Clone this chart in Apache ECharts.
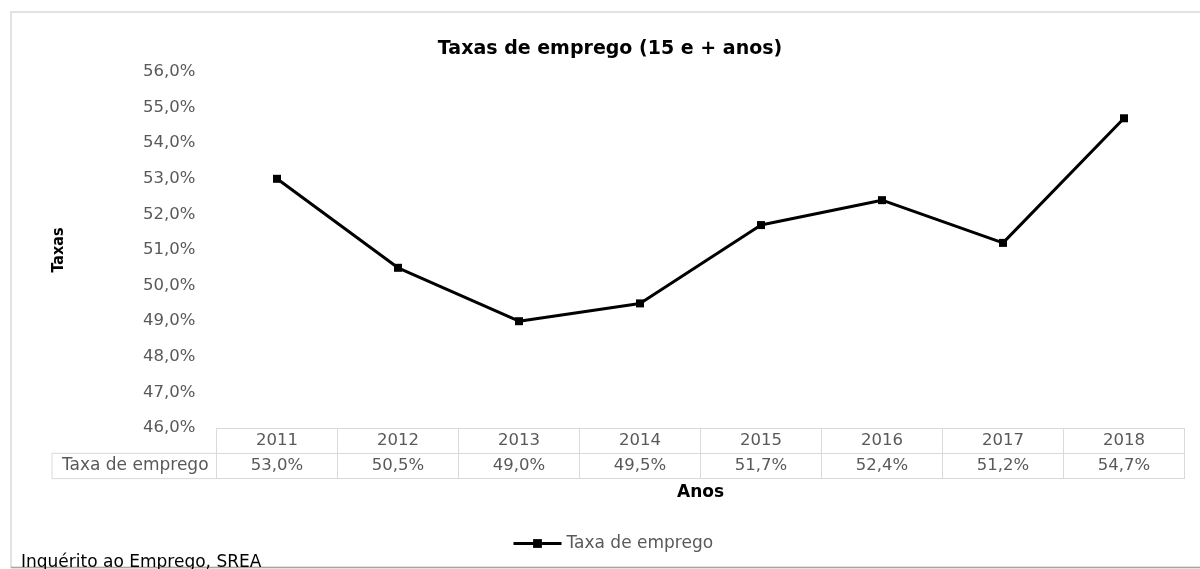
<!DOCTYPE html>
<html>
<head>
<meta charset="utf-8">
<title>Taxas de emprego (15 e + anos)</title>
<script src="https://cdn.jsdelivr.net/npm/echarts@6/dist/echarts.min.js"></script>
<style>
  html, body { margin: 0; padding: 0; background: #ffffff; }
  #chart { width: 1200px; height: 569px; }
</style>
</head>
<body>
<div id="chart"></div>
<script>
// Employment rate, population aged 15 and over (%)
const years = ['2011', '2012', '2013', '2014', '2015', '2016', '2017', '2018'];
const rates = [53.0, 50.5, 49.0, 49.5, 51.7, 52.4, 51.2, 54.7];
const seriesName = 'Taxa de emprego';
const yMin = 46, yMax = 56, yStep = 1;

const FONT = '"DejaVu Sans", Verdana, sans-serif';
const GREY_TEXT = '#595959';
const TABLE_LINE = '#d9d9d9';

const fmtPct = v => Number(v).toFixed(1).replace('.', ',') + '%';

const gridLeft = 216.5, gridRight = 15.5, gridTop = 72, gridBottom = 141;
const rowH = 25.3;

const chart = echarts.init(document.getElementById('chart'), null, { renderer: 'canvas' });

const option = {
  backgroundColor: '#ffffff',
  animation: false,
  title: {
    text: 'Taxas de emprego (15 e + anos)',
    left: 610,
    textAlign: 'center',
    top: 40,
    padding: 0,
    textStyle: { fontFamily: FONT, fontSize: 19, fontWeight: 'bold', color: '#000000' }
  },
  legend: {
    data: [seriesName],
    left: 512,
    top: 535,
    padding: 0,
    itemWidth: 48,
    itemHeight: 11,
    itemGap: 5,
    lineStyle: { width: 3, color: '#000000' },
    textStyle: { fontFamily: FONT, fontSize: 17, color: GREY_TEXT }
  },
  grid: { left: gridLeft, right: gridRight, top: gridTop, bottom: gridBottom, containLabel: false },
  xAxis: [
    {
      // year row of the data table
      type: 'category',
      data: years,
      position: 'bottom',
      boundaryGap: true,
      axisLine: { show: true, lineStyle: { color: TABLE_LINE, width: 1 } },
      axisTick: { show: true, interval: 0, length: rowH * 2, lineStyle: { color: TABLE_LINE, width: 1 } },
      axisLabel: { interval: 0, margin: 12.5, verticalAlign: 'middle', color: GREY_TEXT, fontFamily: FONT, fontSize: 16.5 },
      splitLine: { show: false },
      name: 'Anos',
      nameLocation: 'middle',
      nameGap: 56,
      nameTextStyle: { fontFamily: FONT, fontSize: 17, fontWeight: 'bold', color: '#000000' }
    },
    {
      // value row of the data table
      type: 'category',
      data: years,
      position: 'bottom',
      offset: rowH,
      boundaryGap: true,
      axisLine: { show: true, lineStyle: { color: TABLE_LINE, width: 1 } },
      axisTick: { show: false },
      axisLabel: {
        interval: 0, margin: 12.5, verticalAlign: 'middle', color: GREY_TEXT, fontFamily: FONT, fontSize: 16.5,
        formatter: (v, i) => fmtPct(rates[i])
      }
    },
    {
      // closing line under the table
      type: 'category',
      data: years,
      position: 'bottom',
      offset: rowH * 2,
      axisLine: { show: true, lineStyle: { color: TABLE_LINE, width: 1 } },
      axisTick: { show: false },
      axisLabel: { show: false }
    }
  ],
  yAxis: {
    type: 'value',
    min: yMin,
    max: yMax,
    interval: yStep,
    axisLine: { show: false },
    axisTick: { show: false },
    splitLine: { show: false },
    axisLabel: { margin: 21, color: GREY_TEXT, fontFamily: FONT, fontSize: 16.5, formatter: v => fmtPct(v) },
    name: 'Taxas',
    nameLocation: 'middle',
    nameRotate: 90,
    nameGap: 150,
    nameTextStyle: { fontFamily: '"DejaVu Sans Condensed", "DejaVu Sans", sans-serif', fontSize: 16, fontWeight: 'bold', color: '#000000' }
  },
  series: [
    {
      name: seriesName,
      type: 'line',
      xAxisIndex: 0,
      data: rates,
      symbol: 'rect',
      symbolSize: 8,
      showAllSymbol: true,
      lineStyle: { color: '#000000', width: 3 },
      itemStyle: { color: '#000000' },
      emphasis: { disabled: true }
    }
  ]
};

chart.setOption(option);

// Row header cell of the data table, placed against the grid's left edge
const rowTop = chart.getHeight() - gridBottom + rowH;
const headerW = 164.5;
chart.setOption({
  graphic: [
    {
      // chart frame
      type: 'rect',
      silent: true,
      shape: { x: 11, y: 12, width: 1200, height: 555.5 },
      style: { fill: 'none', stroke: '#d9d9d9', lineWidth: 1.5 }
    },
    {
      type: 'line',
      silent: true,
      shape: { x1: 11, y1: 567.5, x2: 1200, y2: 567.5 },
      style: { stroke: '#a6a6a6', lineWidth: 1.5 }
    },
    {
      type: 'rect',
      silent: true,
      shape: { x: gridLeft - headerW, y: rowTop, width: headerW, height: rowH },
      style: { fill: 'none', stroke: TABLE_LINE, lineWidth: 1 }
    },
    {
      type: 'text',
      silent: true,
      x: gridLeft - headerW / 2 + 1,
      y: rowTop + rowH / 2,
      style: {
        text: seriesName, fill: GREY_TEXT, font: '17px ' + FONT,
        textAlign: 'center', textVerticalAlign: 'middle'
      }
    },
    {
      // data source note
      type: 'text',
      silent: true,
      x: 21,
      y: 571.5,
      style: {
        text: 'Inquérito ao Emprego, SREA', fill: '#000000', font: '17px ' + FONT,
        textAlign: 'left', textVerticalAlign: 'bottom'
      }
    }
  ]
});
</script>
</body>
</html>
